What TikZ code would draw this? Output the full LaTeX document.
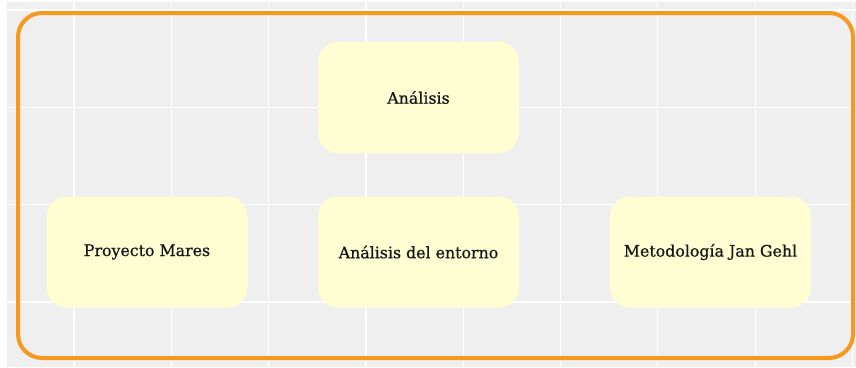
\documentclass[tikz,border=0pt]{standalone}
\usepackage{fontspec}
\setmainfont{DejaVu Serif}
\newfontface\boxfont[FakeBold=0.6]{DejaVu Serif}
\definecolor{bggray}{HTML}{EFEFEF}
\definecolor{frameorange}{HTML}{F7981F}
\definecolor{boxyellow}{HTML}{FFFED3}
\definecolor{txt}{HTML}{141414}
\tikzset{
  gridline/.style={white, line width=1.2pt},
  frame/.style={draw=frameorange, line width=4pt, rounded corners=24pt},
  box/.style={fill=boxyellow, rounded corners=20pt, minimum width=201pt, minimum height=111pt,
    inner sep=0pt, text=txt, font=\boxfont\fontsize{15.8}{18}\selectfont}
}
\begin{document}
\begin{tikzpicture}[x=1pt,y=-1pt]
\useasboundingbox (0,0) rectangle (856,367);
\fill[white] (0,0) rectangle (856,367);
\fill[bggray] (7,2) rectangle (856,367);
\foreach \gx in {74,171.3,268.6,365.9,463.2,560.5,657.8,755.1,852.4}
  \draw[gridline] (\gx,2) -- (\gx,367);
\foreach \gy in {10,107.3,204.6,301.9}
  \draw[gridline] (7,\gy) -- (856,\gy);
\draw[frame] (18,13) rectangle (853,358);
\node[box] (analisis) at (418.5,97.5) {Análisis};
\node[box] (mares) at (147,252) {Proyecto Mares};
\node[box] (entorno) at (418.5,252) {Análisis del entorno};
\node[box] (gehl) at (710.5,252) {Metodología Jan Gehl};
\end{tikzpicture}
\end{document}
